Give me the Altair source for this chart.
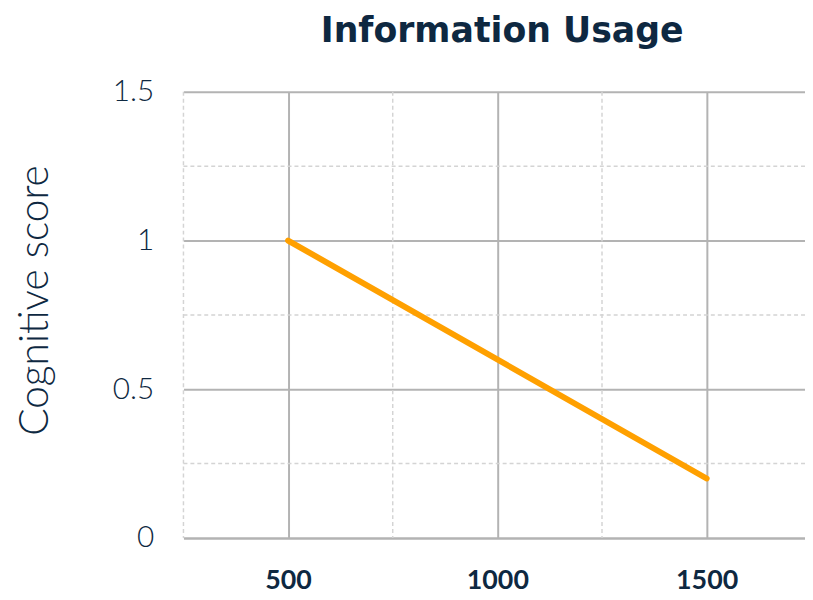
import altair as alt
import pandas as pd

# data
usage = [500, 1500]
score = [1.0, 0.2]
x_major = [500, 1000, 1500]
x_minor = [250, 750, 1250, 1750]
y_major = [0, 0.5, 1, 1.5]
y_minor = [0.25, 0.75, 1.25]

df = pd.DataFrame({"usage": usage, "score": score})
xminor_df = pd.DataFrame({"v": x_minor})
yminor_df = pd.DataFrame({"v": y_minor})

TXT = "#0e2841"
FONT = "Lato"

xscale = alt.Scale(domain=[250, 1735], clamp=True, nice=False, zero=False)
yscale = alt.Scale(domain=[0, 1.5], nice=False)

vminor = alt.Chart(xminor_df).transform_filter(alt.datum.v <= 1735).mark_rule(
    color="#d4d4d4", strokeDash=[4, 3], strokeWidth=1.5
).encode(x=alt.X("v:Q", scale=xscale))

hminor = alt.Chart(yminor_df).mark_rule(
    color="#d4d4d4", strokeDash=[4, 3], strokeWidth=1.5
).encode(y=alt.Y("v:Q", scale=yscale))

line = alt.Chart(df).mark_line(color="#FFA000", strokeWidth=6, strokeCap="round").encode(
    x=alt.X(
        "usage:Q",
        scale=xscale,
        axis=alt.Axis(
            values=x_major, format="d", title=None, grid=True, gridColor="#b3b3b3", gridWidth=2,
            ticks=False, domain=True, domainColor="#b3b3b3", domainWidth=2,
            labelFont=FONT, labelFontSize=27, labelFontWeight="bold", labelColor=TXT,
            labelPadding=30, labelFlush=False,
        ),
    ),
    y=alt.Y(
        "score:Q",
        scale=yscale,
        axis=alt.Axis(
            values=y_major, format="~g", title="Cognitive score", grid=True, gridColor="#b3b3b3", gridWidth=2,
            ticks=False, domain=False, labelFont=FONT, labelFontSize=30, labelFontWeight=300,
            labelColor=TXT, labelPadding=30, labelFlush=False,
            titleFont=FONT, titleFontSize=41, titleFontWeight=300, titleColor=TXT, titlePadding=56,
            titleY=210,
        ),
    ),
)

chart = alt.layer(vminor, hminor, line).properties(
    width=627,
    height=450,
    autosize=alt.AutoSizeParams(type="none"),
    padding={"left": 177, "top": 82, "right": 0, "bottom": 60},
    title=alt.TitleParams(
        "Information Usage", font="DejaVu Sans", fontSize=35, fontWeight="bold", color=TXT,
        anchor="middle", offset=28, dx=8,
    ),
).configure_view(stroke=None)

chart.save("out.html", embed_options={"renderer": "svg", "actions": False})
